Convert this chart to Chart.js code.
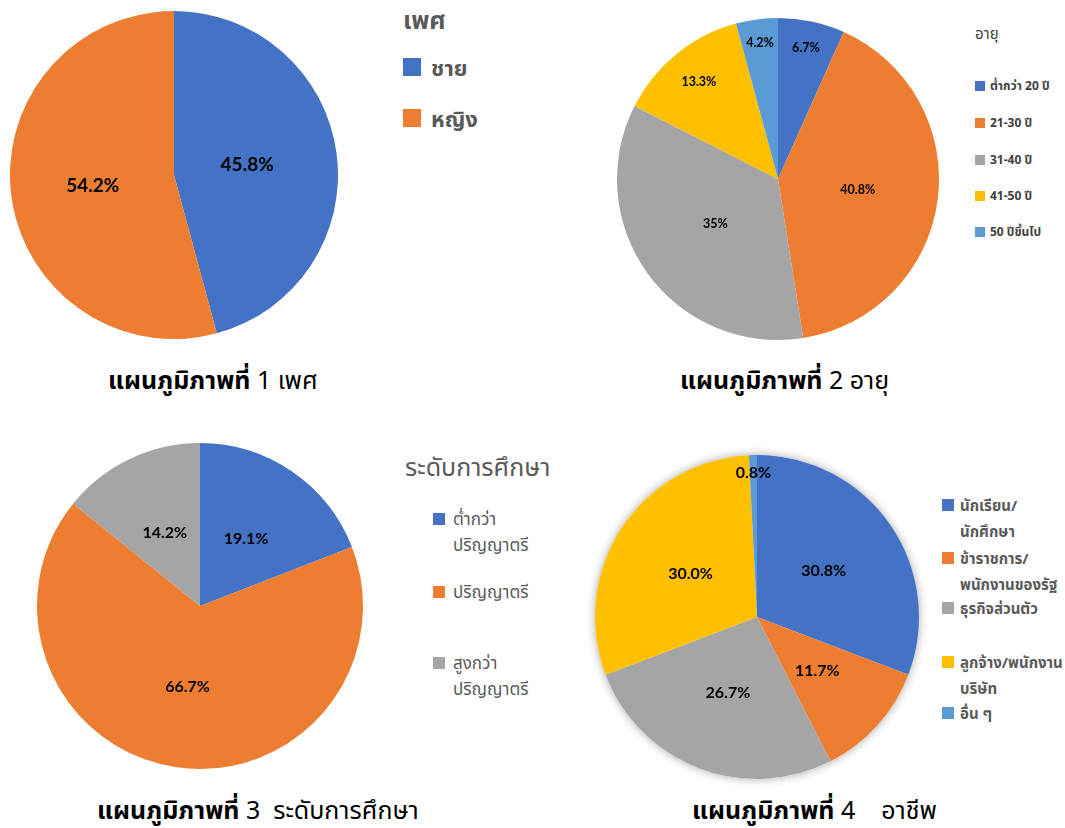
<!DOCTYPE html>
<html>
<head>
<meta charset="utf-8">
<script src="https://cdn.jsdelivr.net/npm/chart.js@4.4.0/dist/chart.umd.min.js"></script>
<style>
  body { margin: 0; background: #fff; width: 1065px; height: 828px; position: relative; overflow: hidden;
         font-family: Tahoma, "Noto Sans", "Noto Sans Thai", "DejaVu Sans", sans-serif; }
  canvas { position: absolute; }
  .ttl, .item, .sw { position: absolute; white-space: nowrap; }
  .cap { position: absolute; color: #000; font-size: 25px; white-space: pre; }
  .cap b { font-weight: bold; }
</style>
</head>
<body>
<canvas id="c1" width="340" height="340"></canvas>
<canvas id="c2" width="340" height="340"></canvas>
<canvas id="c3" width="340" height="340"></canvas>
<canvas id="c4" width="340" height="340"></canvas>
<div id="legends"></div>
<div id="caps"></div>

<script>
// ---- data ----
const sexLabels = ['ชาย', 'หญิง'];
const sexValues = [45.8, 54.2];

const ageLabels = ['ต่ำกว่า 20 ปี', '21-30 ปี', '31-40 ปี', '41-50 ปี', '50 ปีขึ้นไป'];
const ageValues = [6.7, 40.8, 35, 13.3, 4.2];

const eduLabels = [['ต่ำกว่า', 'ปริญญาตรี'], 'ปริญญาตรี', ['สูงกว่า', 'ปริญญาตรี']];
const eduValues = [19.1, 66.7, 14.2];

const jobLabels = [['นักเรียน/', 'นักศึกษา'], ['ข้าราชการ/', 'พนักงานของรัฐ'], 'ธุรกิจส่วนตัว', ['ลูกจ้าง/พนักงาน', 'บริษัท'], 'อื่น ๆ'];
const jobValues = [30.8, 11.7, 26.7, 30.0, 0.8];

const legendTitles = ['เพศ', 'อายุ', 'ระดับการศึกษา', ''];
const captions = [
  ['แผนภูมิภาพที่', ' 1 เพศ'],
  ['แผนภูมิภาพที่', ' 2 อายุ'],
  ['แผนภูมิภาพที่', ' 3  ระดับการศึกษา'],
  ['แผนภูมิภาพที่', ' 4    อาชีพ']
];

const colors = ['#4472C4', '#ED7D31', '#A5A5A5', '#FFC000', '#5B9BD5'];

// draws the percentage inside each slice
const pctLabels = {
  id: 'pctLabels',
  beforeDatasetsDraw(chart, args, opts) {
    if (!opts.shadow) return;
    const arc = chart.getDatasetMeta(0).data[0];
    const ctx = chart.ctx;
    ctx.save();
    ctx.shadowColor = 'rgba(0,0,0,0.35)';
    ctx.shadowBlur = 10;
    ctx.fillStyle = '#fff';
    ctx.beginPath();
    ctx.arc(arc.x, arc.y, arc.outerRadius, 0, Math.PI * 2);
    ctx.fill();
    ctx.restore();
  },
  afterDatasetsDraw(chart, args, opts) {
    const ctx = chart.ctx;
    const vals = chart.data.datasets[0].data;
    ctx.save();
    ctx.font = opts.font;
    ctx.fillStyle = '#000';
    ctx.textAlign = 'center';
    ctx.textBaseline = 'middle';
    chart.getDatasetMeta(0).data.forEach((a, i) => {
      const mid = (a.startAngle + a.endAngle) / 2;
      const r = a.outerRadius * (opts.frac[i] || 0.5);
      const txt = (opts.fixed ? vals[i].toFixed(1) : String(vals[i])) + '%';
      ctx.fillText(txt, a.x + Math.cos(mid) * r, a.y + Math.sin(mid) * r);
    });
    ctx.restore();
  }
};

function makePie(id, labels, values, cx, cy, radius, lab) {
  const el = document.getElementById(id);
  el.style.left = (cx - 170) + 'px';
  el.style.top = (cy - 170) + 'px';
  return new Chart(el, {
    type: 'pie',
    data: {
      labels: labels,
      datasets: [{
        data: values,
        backgroundColor: colors.slice(0, values.length),
        borderWidth: 0,
        hoverOffset: 0,
        radius: radius
      }]
    },
    options: {
      responsive: false,
      animation: false,
      events: [],
      layout: { padding: 0 },
      plugins: {
        legend: { display: false },
        tooltip: { enabled: false },
        pctLabels: lab
      }
    },
    plugins: [pctLabels]
  });
}

makePie('c1', sexLabels, sexValues, 174, 175, 164,
  { font: 'bold 19px Lato', fixed: true, frac: [0.45, 0.5] });
makePie('c2', ageLabels, ageValues, 778, 179, 161,
  { font: 'bold 12.5px Lato', fixed: false, frac: [0.83, 0.5, 0.48, 0.78, 0.85] });
makePie('c3', eduLabels, eduValues, 200, 606, 163,
  { font: 'bold 16px Lato', fixed: true, frac: [0.5, 0.5, 0.5] });
makePie('c4', jobLabels, jobValues, 757, 617, 162,
  { font: 'bold 16px Lato', fixed: true, frac: [0.5, 0.5, 0.5, 0.49, 0.89], shadow: true });

// ---- legends (html) ----
const legendSpecs = [
  { labels: sexLabels, x: 403, title: [403, 20], titleSize: 25, titleBold: true, size: 22, bold: true, sw: 18, gap: 10,
    rows: [67, 118], lineH: 26 },
  { labels: ageLabels, x: 975, title: [975, 33], titleSize: 15, size: 12, bold: true, sw: 10, gap: 5,
    rows: [86, 123, 160, 196, 232], lineH: 20, color: '#404040' },
  { labels: eduLabels, x: 433, title: [405, 467], titleSize: 25, size: 17, bold: false, sw: 12, gap: 8,
    rows: [519, 592, 663], lineH: 26 },
  { labels: jobLabels, x: 942, title: null, size: 15, bold: true, sw: 12, gap: 6,
    rows: [505, 558, 608, 662, 713], lineH: 26 }
];

let lhtml = '';
legendSpecs.forEach((s, k) => {
  const col = s.color || '#595959';
  if (s.title) {
    lhtml += `<div class="ttl" style="left:${s.title[0]}px;top:${s.title[1] - s.titleSize * 0.75}px;font-size:${s.titleSize}px;line-height:${s.titleSize * 1.5}px;color:${col};font-weight:${s.titleBold ? 'bold' : 'normal'};">${legendTitles[k]}</div>`;
  }
  s.labels.forEach((lab, i) => {
    const lines = Array.isArray(lab) ? lab : [lab];
    const y = s.rows[i];
    lhtml += `<div class="sw" style="left:${s.x}px;top:${y - s.sw / 2}px;width:${s.sw}px;height:${s.sw}px;background:${colors[i]};"></div>`;
    lines.forEach((ln, j) => {
      lhtml += `<div class="item" style="left:${s.x + s.sw + s.gap}px;top:${y + j * s.lineH - s.lineH / 2}px;font-size:${s.size}px;line-height:${s.lineH}px;color:${col};font-weight:${s.bold ? 'bold' : 'normal'};">${ln}</div>`;
    });
  });
});
document.getElementById('legends').innerHTML = lhtml;

// ---- captions ----
const capPos = [[108, 379], [680, 379], [97, 809], [692, 809]];
let chtml = '';
captions.forEach((c, i) => {
  chtml += `<div class="cap" style="left:${capPos[i][0]}px;top:${capPos[i][1] - 17}px;line-height:34px;"><b>${c[0]}</b>${c[1]}</div>`;
});
document.getElementById('caps').innerHTML = chtml;
</script>
</body>
</html>
